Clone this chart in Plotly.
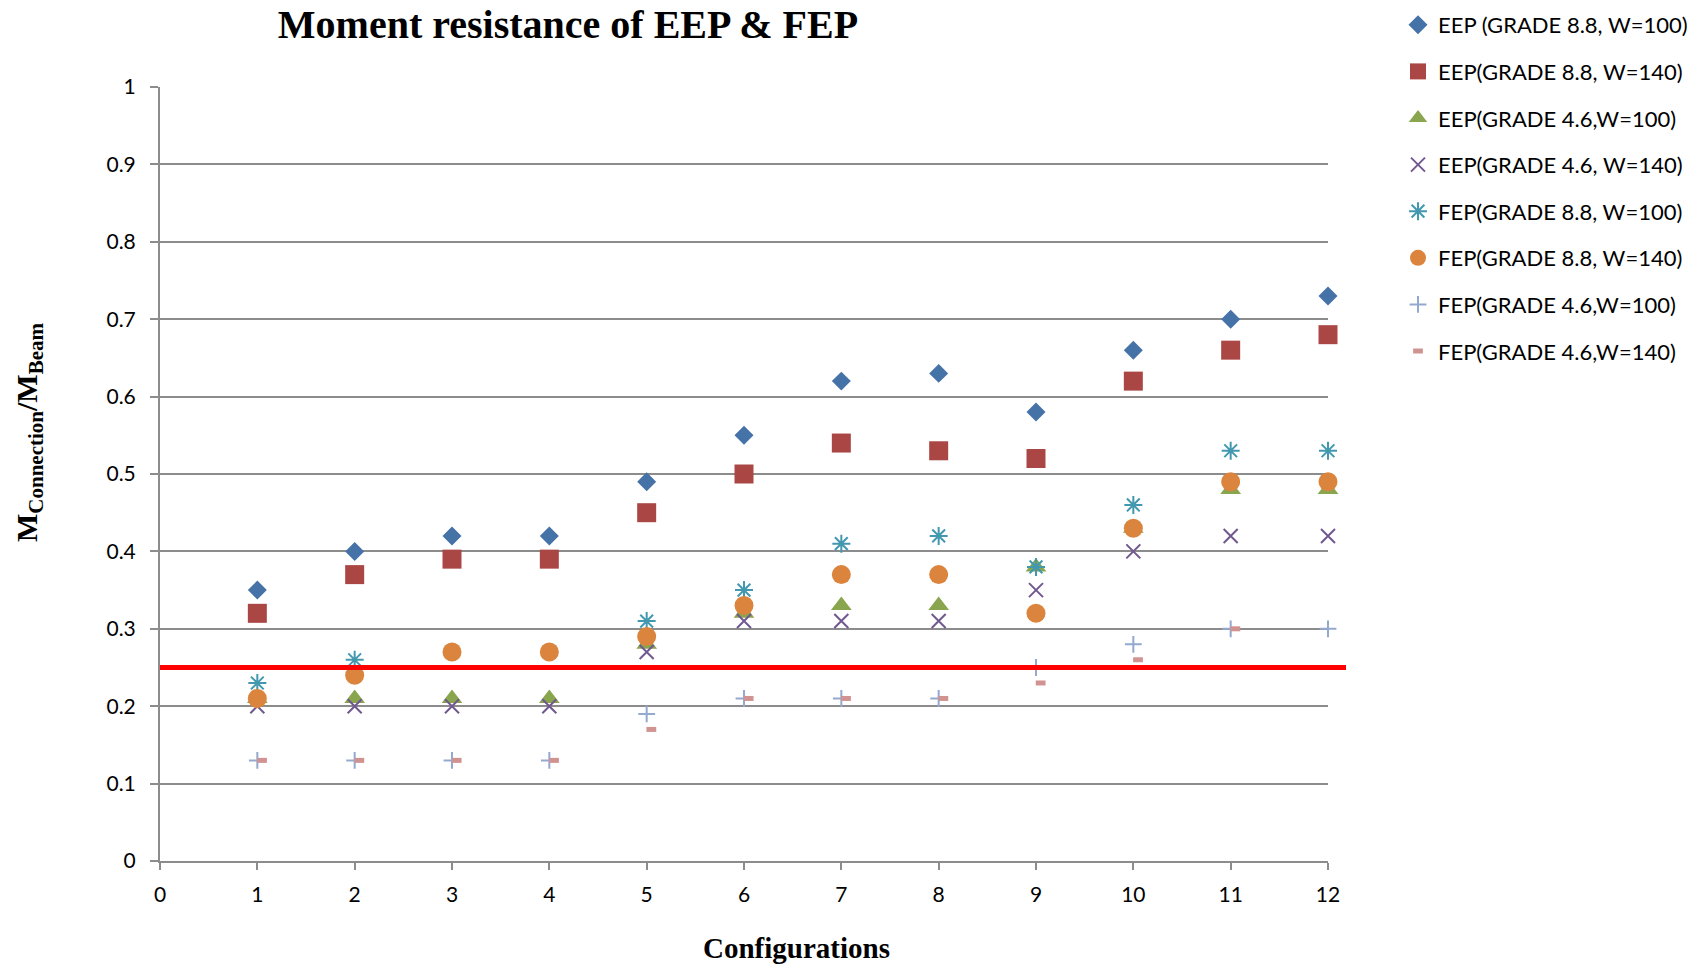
import plotly.graph_objects as go

# ---- data ----
configs = [1, 2, 3, 4, 5, 6, 7, 8, 9, 10, 11, 12]
eep_88_w100 = [0.35, 0.40, 0.42, 0.42, 0.49, 0.55, 0.62, 0.63, 0.58, 0.66, 0.70, 0.73]
eep_88_w140 = [0.32, 0.37, 0.39, 0.39, 0.45, 0.50, 0.54, 0.53, 0.52, 0.62, 0.66, 0.68]
eep_46_w100 = [0.21, 0.21, 0.21, 0.21, 0.28, 0.32, 0.33, 0.33, 0.38, 0.43, 0.48, 0.48]
eep_46_w140 = [0.20, 0.20, 0.20, 0.20, 0.27, 0.31, 0.31, 0.31, 0.35, 0.40, 0.42, 0.42]
fep_88_w100 = [0.23, 0.26, 0.27, 0.27, 0.31, 0.35, 0.41, 0.42, 0.38, 0.46, 0.53, 0.53]
fep_88_w140 = [0.21, 0.24, 0.27, 0.27, 0.29, 0.33, 0.37, 0.37, 0.32, 0.43, 0.49, 0.49]
fep_46_w100 = [0.13, 0.13, 0.13, 0.13, 0.19, 0.21, 0.21, 0.21, 0.25, 0.28, 0.30, 0.30]
fep_46_w140 = [0.13, 0.13, 0.13, 0.13, 0.17, 0.21, 0.21, 0.21, 0.23, 0.26, 0.30, 0.30]
THRESHOLD = 0.25

series_names = [
    "EEP (GRADE 8.8, W=100)",
    "EEP(GRADE 8.8, W=140)",
    "EEP(GRADE 4.6,W=100)",
    "EEP(GRADE 4.6, W=140)",
    "FEP(GRADE 8.8, W=100)",
    "FEP(GRADE 8.8, W=140)",
    "FEP(GRADE 4.6,W=100)",
    "FEP(GRADE 4.6,W=140)",
]
series_values = [eep_88_w100, eep_88_w140, eep_46_w100, eep_46_w140,
                 fep_88_w100, fep_88_w140, fep_46_w100, fep_46_w140]

# ---- styles ----
styles = [
    dict(symbol="diamond", size=14.6, color="#4572A7", line=dict(width=0)),
    dict(symbol="square", size=19, color="#AA4643", line=dict(width=0)),
    dict(symbol="triangle-up", size=18, color="#89A54E", line=dict(width=0)),
    dict(symbol="x-thin", size=14, color="#71588F", line=dict(width=2, color="#71588F")),
    dict(symbol="asterisk", size=15, color="#4198AF", line=dict(width=2, color="#4198AF")),
    dict(symbol="circle", size=19, color="#DB843D", line=dict(width=0)),
    dict(symbol="cross-thin", size=12, color="#93A9CF", line=dict(width=2, color="#93A9CF")),
    dict(symbol="line-ew", size=7, color="#D19392", line=dict(width=5, color="#D19392")),
]

fig = go.Figure()
for i, (name, vals, st) in enumerate(zip(series_names, series_values, styles)):
    fig.add_trace(go.Scatter(
        x=configs, y=vals, mode="markers", name=name,
        legendgroup=f"g{i}",
        marker=st,
        cliponaxis=False,
        xaxis="x2" if st["symbol"] == "line-ew" else "x",
    ))

W, H = 1702, 968
L, R, T, B = 160, 374, 87, 107
gray = "#8c8c8c"
dash_shift = 0.048

fig.update_layout(
    width=W, height=H,
    margin=dict(l=L, r=R, t=T, b=B),
    paper_bgcolor="white", plot_bgcolor="white",
    font=dict(family="Lato", size=21, color="#000000"),
    title=dict(
        text="Moment resistance of EEP & FEP",
        xref="container", yref="container",
        x=568 / W, y=1 - 24 / H, xanchor="center", yanchor="middle",
        font=dict(family="Liberation Serif", size=40, weight="bold", color="#000000"),
    ),
    xaxis=dict(
        range=[0, 12], dtick=1, tick0=0,
        showgrid=False, zeroline=False,
        showline=True, linecolor=gray, linewidth=2,
        ticks="outside", ticklen=7, tickcolor=gray, tickwidth=2,
        ticklabelstandoff=7,
        tickfont=dict(family="Lato", size=21, color="#000000"),
    ),
    xaxis2=dict(
        overlaying="x", range=[0 - dash_shift, 12 - dash_shift],
        visible=False,
    ),
    yaxis=dict(
        range=[0, 1], dtick=0.1, tick0=0,
        showgrid=True, gridcolor=gray, gridwidth=2,
        zeroline=False,
        showline=True, linecolor=gray, linewidth=2,
        ticks="outside", ticklen=8, tickcolor=gray, tickwidth=2,
        ticklabelstandoff=10,
        tickfont=dict(family="Lato", size=21, color="#000000"),
    ),
    legend=dict(
        xref="container", yref="container",
        x=1398 / W, y=1 - 4 / H, xanchor="left", yanchor="top",
        font=dict(family="Lato", size=22, color="#000000"),
        tracegroupgap=15,
        bgcolor="rgba(0,0,0,0)",
    ),
    showlegend=True,
    shapes=[dict(
        type="line", xref="paper", yref="y",
        x0=0, x1=(1346 - L) / (W - L - R), y0=THRESHOLD, y1=THRESHOLD,
        line=dict(color="#FF0000", width=5), layer="above",
    )],
    annotations=[
        dict(
            text="Configurations", xref="paper", yref="paper",
            x=(796 - L) / (W - L - R), y=(H - B - 948) / (H - T - B),
            xanchor="center", yanchor="middle", showarrow=False,
            font=dict(family="Liberation Serif", size=29, weight="bold", color="#000000"),
        ),
        dict(
            text="M<sub>Connection</sub>/M<sub>Beam</sub>", xref="paper", yref="paper",
            x=(29 - L) / (W - L - R), y=(H - B - 432) / (H - T - B),
            xanchor="center", yanchor="middle", showarrow=False, textangle=-90,
            font=dict(family="Liberation Serif", size=30, weight="bold", color="#000000"),
        ),
    ],
)

fig.write_html("out.html")
